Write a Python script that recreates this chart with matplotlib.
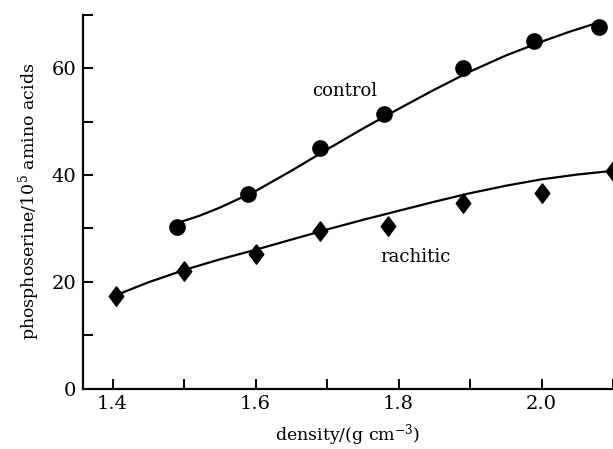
import numpy as np
import matplotlib.pyplot as plt

# measured points
control_x = [1.49, 1.59, 1.69, 1.78, 1.89, 1.99, 2.08]
control_y = [30.3, 36.5, 45.0, 51.5, 60.1, 65.2, 67.7]
rachitic_x = [1.405, 1.50, 1.60, 1.69, 1.785, 1.89, 2.00, 2.10]
rachitic_y = [17.3, 22.1, 25.2, 29.6, 30.4, 34.8, 36.7, 40.8]

# hand-drawn curves
control_curve_x = [1.49, 1.52, 1.55, 1.60, 1.65, 1.70, 1.75, 1.80, 1.85, 1.90, 1.95, 2.00, 2.04, 2.08]
control_curve_y = [31.0, 32.3, 33.9, 37.0, 40.8, 44.8, 48.7, 52.4, 56.0, 59.4, 62.4, 65.0, 66.9, 68.6]
rachitic_curve_x = [1.405, 1.45, 1.50, 1.55, 1.60, 1.65, 1.70, 1.75, 1.80, 1.85, 1.90, 1.95, 2.00, 2.05, 2.10]
rachitic_curve_y = [17.5, 19.9, 22.2, 24.2, 26.0, 27.9, 29.8, 31.6, 33.3, 35.0, 36.6, 38.0, 39.2, 40.1, 40.8]

xticks = [1.4, 1.5, 1.6, 1.7, 1.8, 1.9, 2.0, 2.1]
xticklabels = ['1.4', '', '1.6', '', '1.8', '', '2.0', '']
yticks = [0, 10, 20, 30, 40, 50, 60, 70]
yticklabels = ['0', '', '20', '', '40', '', '60', '']

plt.rcParams['font.family'] = ['DejaVu Serif']
plt.rcParams['mathtext.fontset'] = 'dejavuserif'

diamond = [(0, 1), (0.75, 0), (0, -1), (-0.75, 0), (0, 1)]

fig = plt.figure(figsize=(6.13, 4.49), dpi=100)
ax = fig.add_axes([83 / 613, 1 - 388.5 / 449, 1 - 83 / 613, (388.5 - 15) / 449])

ax.plot(control_curve_x, control_curve_y, color='black', lw=1.6)
ax.plot(rachitic_curve_x, rachitic_curve_y, color='black', lw=1.6)
ax.plot(control_x, control_y, 'o', color='black', ms=11)
ax.plot(rachitic_x, rachitic_y, marker=diamond, ls='none', color='black', ms=14)

ax.text(1.724, 55.7, 'control', fontsize=13, ha='center', va='center')
ax.text(1.824, 24.7, 'rachitic', fontsize=13, ha='center', va='center')

ax.set_xlim(1.3586, 2.1)
ax.set_ylim(0, 70)
ax.set_xticks(xticks)
ax.set_xticklabels(xticklabels)
ax.set_yticks(yticks)
ax.set_yticklabels(yticklabels)
ax.tick_params(direction='in', length=7, width=1.4, labelsize=14, pad=5)

for s in ['top', 'right']:
    ax.spines[s].set_visible(False)
for s in ['left', 'bottom']:
    ax.spines[s].set_linewidth(1.6)

ax.set_xlabel('density/(g cm$^{-3}$)', fontsize=12.5, labelpad=6)
ax.set_ylabel('phosphoserine/10$^5$ amino acids', fontsize=12.5, labelpad=7)

fig.savefig('out.png', dpi=100)
